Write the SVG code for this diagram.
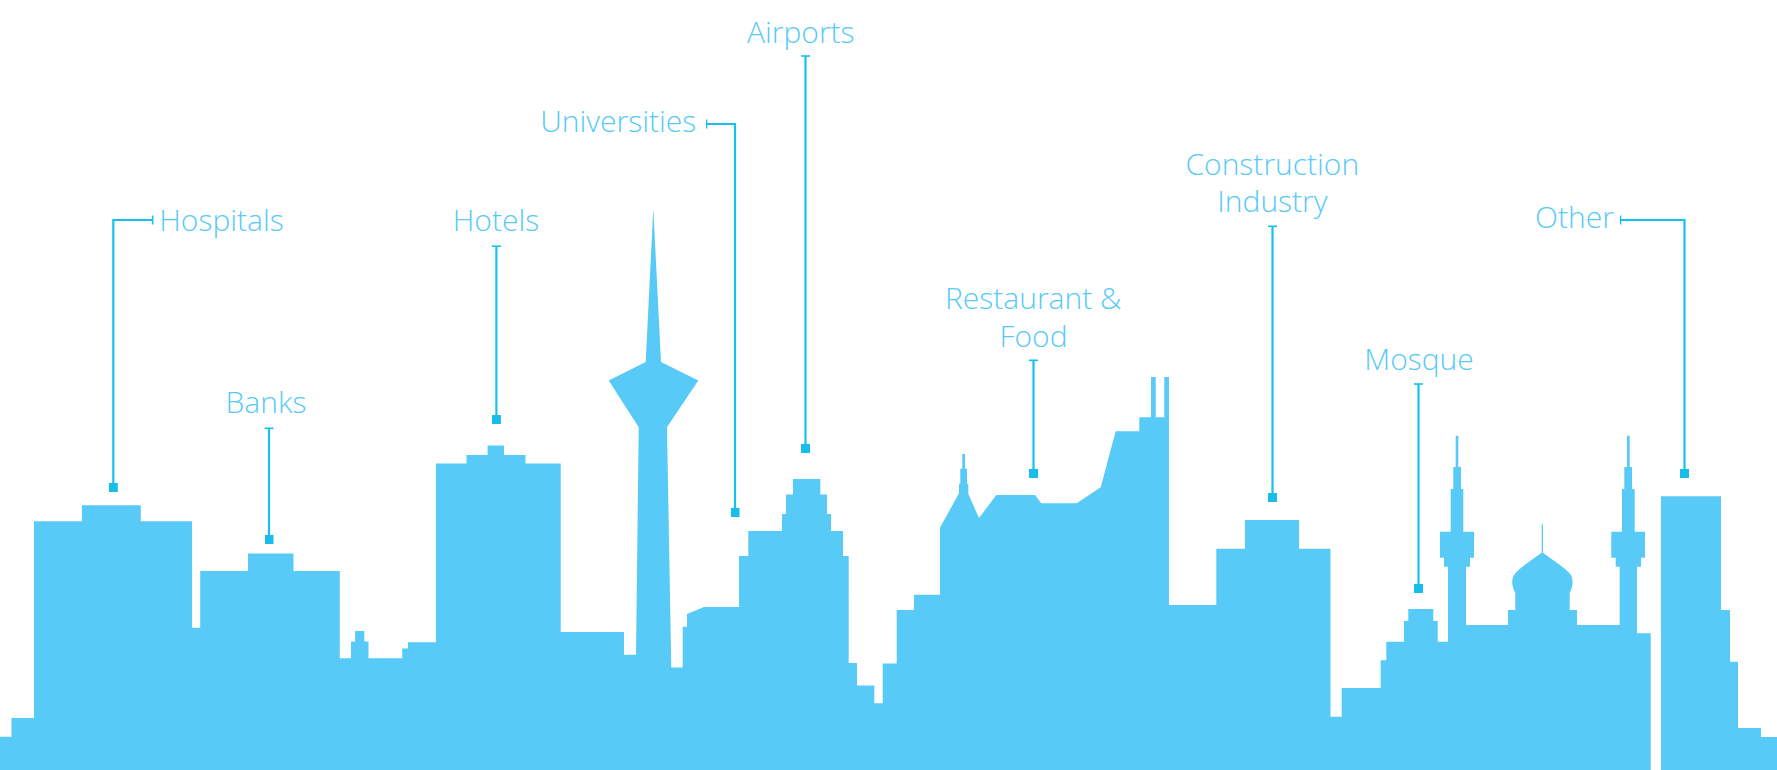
<svg xmlns="http://www.w3.org/2000/svg" width="1777" height="770" viewBox="0 0 1777 770">
<style>
text{font-family:"Open Sans","Liberation Sans",sans-serif;font-weight:300;font-size:30px;fill:#58CAF7;text-anchor:middle}
.sky{fill:#58CAF7}
.conn{fill:none;stroke:#17C0EE;stroke-width:2.2;marker-start:url(#cap);marker-end:url(#dot)}
</style>
<defs>
<marker id="cap" markerUnits="userSpaceOnUse" markerWidth="4" markerHeight="12" refX="1" refY="6" orient="auto"><rect x="0.2" y="1.5" width="1.6" height="9" fill="#17C0EE"/></marker>
<marker id="dot" markerUnits="userSpaceOnUse" markerWidth="10" markerHeight="10" refX="4.5" refY="4.5"><rect width="9" height="9" fill="#17BDEB"/></marker>
</defs>
<g id="skyline"><path class="sky" d="M0 736.8H11.5V718H34V521.3H81.9V505.2H140.8V521.3H192.1V627.7H200.2V571H248V553.5H293.5V571H339.8V658.3H351V641.5H355.1V631H364.3V641.5H368.5V658.3H402.2V648.4H408V642.3H435.9V463.5H466.5V455H487.6V445.5H504V455H525.5V463.5H560.7V632H624V654.7H636L638.7 427.3L608.7 380.6L645.7 362L653.3 208.3L661 362L698.3 380.6L667 427.3L671.3 667.5H682.7V626.7H687V614L704 607H739V556H748.3V531H782V514H786V494.6H793V478.9H820.3V494.6H827V514H831V531H843V556H848.7V663H857V685.6H874.3V703.3H882.7V663.6H896.7V610H914V594.7H940V527.7L959 493.3V483.7H960.3V468.7H962.3V454H965V468.7H967V483.7H968.3V494L979 518L996.3 495H1035L1041.3 503.3H1076.7L1100.7 487.3L1115.7 431.3H1139.3V417.3H1151V377H1155.7V417.3H1164.3V377H1169V605H1216.3V548.7H1245V520H1299V548.7H1330.5V716.7H1341.7V688H1380.7V660.3H1386.3V641.7H1404V621H1408.3V609H1433.3V621H1437.7V641.7H1448V566.7H1444V557.7H1440V531.7H1450.7V489H1453.3V467H1455.7V435.7H1458.3V467H1461V489H1463.3V531.7H1474V557.7H1470V566.7H1466V625H1508V610H1515.3V592.7C1512 587 1511 580 1514 575C1518 569 1530 561 1541.7 552.7V524.3H1543V552.7C1554 561 1567 569 1571 575C1573.5 580 1573 587 1569.7 592.7V610H1577V625H1619.7V566.7H1615.7V557.7H1611.3V531.7H1622V489H1624.3V467H1627V435.7H1629.7V467H1632V489H1634.7V531.7H1645V557.7H1641V566.7H1637V633.3H1650.7V770H1661V496.3H1721V610H1730V661.7H1738V728H1761V737H1777V770H0Z"/></g>
<g id="connectors">
<path class="conn" d="M152.7 220H113.3V487.5"/>
<path class="conn" d="M269 428.3V539.5"/>
<path class="conn" d="M496.4 246.2V419.5"/>
<path class="conn" d="M706.5 124H735V512.5"/>
<path class="conn" d="M805.5 56V448.5"/>
<path class="conn" d="M1033.5 360.3V473.5"/>
<path class="conn" d="M1272.5 226.3V497.5"/>
<path class="conn" d="M1418.5 384V588.5"/>
<path class="conn" d="M1620.5 220H1684.5V473.5"/>
</g>
<g id="node-hospitals"><text x="221.5" y="230.5">Hospitals</text></g>
<g id="node-banks"><text x="266" y="413">Banks</text></g>
<g id="node-hotels"><text x="496" y="230.5">Hotels</text></g>
<g id="node-universities"><text x="618.3" y="132">Universities</text></g>
<g id="node-airports"><text x="800.8" y="43.2">Airports</text></g>
<g id="node-restaurant"><text x="1033.2" y="309">Restaurant &amp;</text><text x="1033.5" y="346.7">Food</text></g>
<g id="node-construction"><text x="1272.3" y="175">Construction</text><text x="1272.4" y="212.3">Industry</text></g>
<g id="node-mosque"><text x="1419" y="370">Mosque</text></g>
<g id="node-other"><text x="1574.5" y="227.7">Other</text></g>
</svg>
